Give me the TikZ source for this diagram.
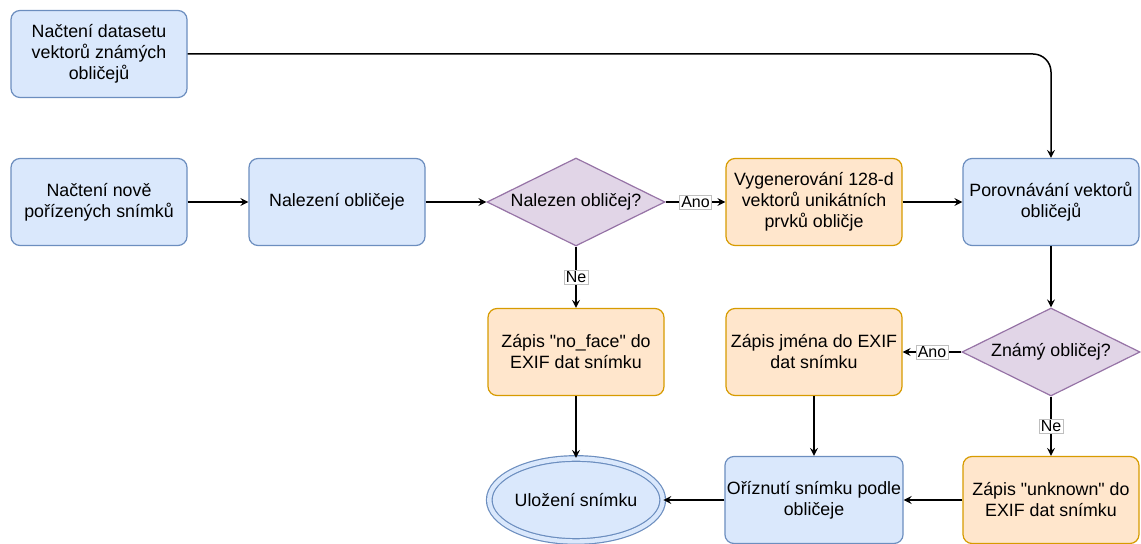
\documentclass[tikz,border=0pt]{standalone}
\usepackage{fontspec}
\setmainfont{Liberation Sans}
\usetikzlibrary{shapes.geometric,arrows}

\definecolor{modraV}{HTML}{DAE8FC}
\definecolor{modraO}{HTML}{6C8EBF}
\definecolor{oranzV}{HTML}{FFE6CC}
\definecolor{oranzO}{HTML}{D79B00}
\definecolor{fialV}{HTML}{E1D5E7}
\definecolor{fialO}{HTML}{9673A6}

\tikzset{
  krok/.style={rectangle, rounded corners=4.5pt, draw=modraO, fill=modraV, line width=0.6pt,
    inner xsep=1pt, minimum width=88pt, minimum height=43.5pt, align=center},
  zapis/.style={krok, draw=oranzO, fill=oranzV},
  dotaz/.style={diamond, aspect=2, draw=fialO, fill=fialV, line width=0.6pt, inner sep=0pt,
    minimum width=89pt, minimum height=44pt, align=center},
  konec/.style={ellipse, draw=modraO, fill=modraV, line width=0.6pt, double=modraV, inner sep=0pt,
    double distance=2.2pt, minimum width=86pt, minimum height=41.5pt, align=center},
  popisek/.style={fill=white, draw=black!25, line width=0.3pt, inner sep=0.8pt, font=\fontsize{8}{9.6}\selectfont}
}

\begin{document}
\begin{tikzpicture}[x=0.5pt,y=-0.5pt,>=stealth, line width=0.75pt,
    every node/.style={font=\fontsize{8.9}{10.5}\selectfont}]
                \useasboundingbox (0,0) rectangle (1141,544);

                \node[krok] (dataset) at (99,54) {Načtení datasetu\\vektorů známých\\obličejů};
                \node[krok] (nacteni) at (99,202) {Načtení nově\\pořízených snímků};
                \node[krok] (nalezeni) at (337,202) {Nalezení obličeje};
                \node[dotaz] (nalezen) at (576,202) {Nalezen obličej?};
                \node[zapis] (vektory) at (814,202) {Vygenerování 128-d\\vektorů unikátních\\prvků oblič{}je};
                \node[krok] (porovnani) at (1051,202) {Porovnávání vektorů\\obličejů};

                \node[zapis] (noface) at (576,352) {Zápis \textquotedbl no\_face\textquotedbl{} do\\EXIF dat snímku};
                \node[zapis] (jmeno) at (814,352) {Zápis jména do EXIF\\dat snímku};
                \node[dotaz] (znamy) at (1051,352) {Známý obličej?};

                \node[konec] (ulozeni) at (576,500) {Uložení snímku};
                \node[krok] (orez) at (814,500) {Oříznutí snímku podle\\obličeje};
                \node[zapis] (unknown) at (1051,500) {Zápis \textquotedbl unknown\textquotedbl{} do\\EXIF dat snímku};

                \draw[->, rounded corners=9pt] (dataset.east) -| (porovnani.north);
                \draw[->] (nacteni) -- (nalezeni);
                \draw[->] (nalezeni) -- (nalezen);
                \draw[->] (nalezen) -- (vektory) node[midway,popisek] {Ano};
                \draw[->] (vektory) -- (porovnani);
                \draw[->] (nalezen) -- (noface) node[midway,popisek] {Ne};
                \draw[->] (porovnani) -- (znamy);
                \draw[->] (znamy) -- (jmeno) node[midway,popisek] {Ano};
                \draw[->] (znamy) -- (unknown) node[midway,popisek] {Ne};
                \draw[->] (jmeno) -- (orez);
                \draw[->] (noface) -- (ulozeni);
                \draw[->] (unknown) -- (orez);
                \draw[->] (orez) -- (ulozeni);
            \end{tikzpicture}
\end{document}
